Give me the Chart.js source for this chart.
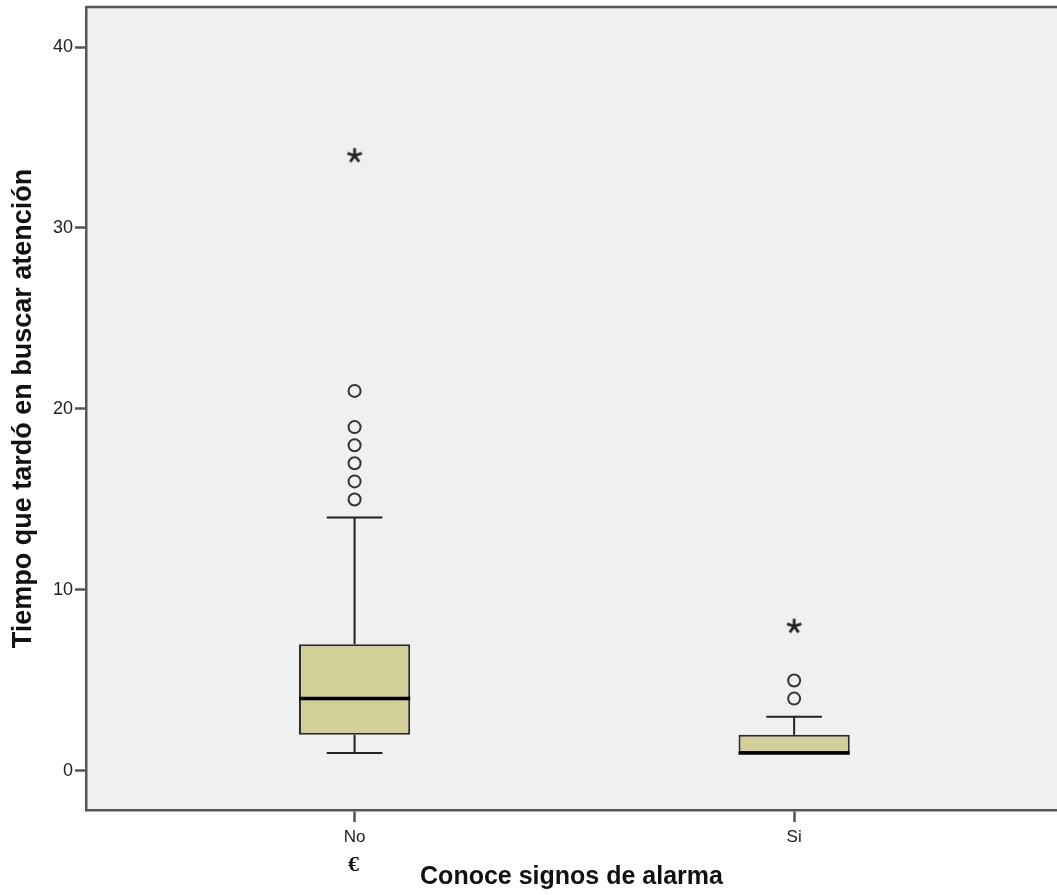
<!DOCTYPE html>
<html>
<head>
<meta charset="utf-8">
<script src="https://cdn.jsdelivr.net/npm/chart.js@4.4.0/dist/chart.umd.min.js"></script>
<style>
  html, body { margin: 0; padding: 0; background: #ffffff; }
  canvas { display: block; }
</style>
</head>
<body>
<canvas id="chart" width="1057" height="895"></canvas>
<script>
// Tiempo que tardó en buscar atención, by knowledge of alarm signs
const categories = ['No', 'Si'];
const whiskerLow = [1, 1];
const q1 = [2, 1];
const median = [4, 1];
const q3 = [7, 2];
const whiskerHigh = [14, 3];
const outliers = [[15, 16, 17, 18, 19, 21], [4, 5]];
const extremes = [[34], [8]];
const yTicks = [0, 10, 20, 30, 40];

const FONT = "'Liberation Sans', Arial, sans-serif";
const AXIS_GREY = '#555555';

// asterisk marker for extreme values
function makeAsterisk() {
  const c = document.createElement('canvas');
  c.width = 18; c.height = 18;
  const g = c.getContext('2d');
  g.strokeStyle = '#222';
  g.lineWidth = 2.8;
  g.lineCap = 'butt';
  for (let k = 0; k < 5; k++) {
    const a = -Math.PI / 2 + k * 2 * Math.PI / 5;
    g.beginPath();
    g.moveTo(9, 9);
    g.lineTo(9 + 7.5 * Math.cos(a), 9 + 7.5 * Math.sin(a));
    g.stroke();
  }
  return c;
}
const asterisk = makeAsterisk();

const boxData = categories.map((c, i) => ({ x: i + 1, y: [q1[i], q3[i]] }));
const outlierData = [];
outliers.forEach((vals, i) => vals.forEach(v => outlierData.push({ x: i + 1, y: v })));
const extremeData = [];
extremes.forEach((vals, i) => vals.forEach(v => extremeData.push({ x: i + 1, y: v })));

const boxParts = {
  id: 'boxParts',
  beforeDraw(chart) {
    const { ctx, chartArea: a } = chart;
    ctx.save();
    ctx.fillStyle = '#f0f0f0';
    ctx.fillRect(a.left, a.top, a.right - a.left, a.bottom - a.top);
    ctx.restore();
  },
  afterDatasetsDraw(chart) {
    const { ctx } = chart;
    const xs = chart.scales.x, ys = chart.scales.y;
    const bars = chart.getDatasetMeta(0).data;
    ctx.save();
    categories.forEach((c, i) => {
      const cx = xs.getPixelForValue(i + 1);
      const half = bars[i].width / 2;
      const capHalf = half / 2;
      ctx.strokeStyle = '#222';
      ctx.lineWidth = 2;
      // upper whisker
      if (whiskerHigh[i] > q3[i]) {
        ctx.beginPath();
        ctx.moveTo(cx, ys.getPixelForValue(q3[i]));
        ctx.lineTo(cx, ys.getPixelForValue(whiskerHigh[i]));
        ctx.stroke();
      }
      ctx.beginPath();
      ctx.moveTo(cx - capHalf, ys.getPixelForValue(whiskerHigh[i]));
      ctx.lineTo(cx + capHalf, ys.getPixelForValue(whiskerHigh[i]));
      ctx.stroke();
      // lower whisker
      if (whiskerLow[i] < q1[i]) {
        ctx.beginPath();
        ctx.moveTo(cx, ys.getPixelForValue(q1[i]));
        ctx.lineTo(cx, ys.getPixelForValue(whiskerLow[i]));
        ctx.stroke();
        ctx.beginPath();
        ctx.moveTo(cx - capHalf, ys.getPixelForValue(whiskerLow[i]));
        ctx.lineTo(cx + capHalf, ys.getPixelForValue(whiskerLow[i]));
        ctx.stroke();
      }
      // median
      ctx.strokeStyle = '#000';
      ctx.lineWidth = 3.5;
      const my = ys.getPixelForValue(median[i]);
      ctx.beginPath();
      ctx.moveTo(cx - half, my);
      ctx.lineTo(cx + half, my);
      ctx.stroke();
    });
    ctx.restore();
  },
  afterDraw(chart) {
    const { ctx, chartArea: a } = chart;
    ctx.save();
    ctx.strokeStyle = AXIS_GREY;
    ctx.lineWidth = 2.5;
    ctx.beginPath();
    ctx.moveTo(a.left, a.top);
    ctx.lineTo(a.right, a.top);
    ctx.stroke();
    ctx.fillStyle = '#111';
    ctx.font = "bold 22px 'Liberation Serif', 'DejaVu Serif', serif";
    ctx.textAlign = 'center';
    ctx.textBaseline = 'middle';
    ctx.fillText('€', chart.scales.x.getPixelForValue(1) - 1, 865);
    ctx.restore();
  }
};

new Chart(document.getElementById('chart'), {
  type: 'bar',
  data: {
    datasets: [
      {
        type: 'bar',
        data: boxData,
        backgroundColor: '#d3cf98',
        borderColor: '#2a2a2a',
        borderWidth: 2,
        borderSkipped: false,
        barPercentage: 0.253,
        categoryPercentage: 1.0,
        order: 2
      },
      {
        type: 'scatter',
        data: outlierData,
        pointStyle: 'circle',
        pointRadius: 6,
        pointBorderWidth: 2,
        pointBorderColor: '#333333',
        pointBackgroundColor: 'rgba(0,0,0,0)',
        showLine: false,
        order: 1
      },
      {
        type: 'scatter',
        data: extremeData,
        pointStyle: asterisk,
        showLine: false,
        order: 1
      }
    ]
  },
  options: {
    responsive: false,
    animation: false,
    devicePixelRatio: 1,
    layout: { autoPadding: false, padding: { top: 7, right: 0, left: 0, bottom: 0 } },
    plugins: { legend: { display: false }, tooltip: { enabled: false } },
    scales: {
      x: {
        type: 'linear',
        offset: false,
        min: 0.389,
        max: 2.598,
        afterBuildTicks: s => { s.ticks = categories.map((c, i) => ({ value: i + 1 })); },
        afterFit: s => { s.height = 85; s.paddingLeft = 0; s.paddingRight = 0; },
        grid: { offset: false, drawOnChartArea: false, drawTicks: true, tickLength: 12, color: AXIS_GREY, tickColor: AXIS_GREY, tickWidth: 2.5 },
        border: { display: true, color: AXIS_GREY, width: 2.5 },
        ticks: {
          color: '#222',
          padding: 5,
          maxRotation: 0,
          font: { family: FONT, size: 17 },
          callback: (v, idx) => categories[idx]
        },
        title: {
          display: true,
          text: 'Conoce signos de alarma',
          color: '#111',
          font: { family: FONT, size: 25, weight: 'bold' },
          padding: { top: 0, bottom: 3 }
        }
      },
      y: {
        type: 'linear',
        min: -2.155,
        max: 42.21,
        afterBuildTicks: s => { s.ticks = yTicks.map(v => ({ value: v })); },
        afterFit: s => { s.width = 86; s.paddingTop = 0; s.paddingBottom = 0; },
        grid: { drawOnChartArea: false, drawTicks: true, tickLength: 11, color: AXIS_GREY, tickColor: AXIS_GREY, tickWidth: 2.5 },
        border: { display: true, color: AXIS_GREY, width: 2.5 },
        ticks: {
          color: '#222',
          padding: 2,
          font: { family: FONT, size: 18 }
        },
        title: {
          display: true,
          text: 'Tiempo que tardó en buscar atención',
          color: '#111',
          font: { family: FONT, size: 27, weight: 'bold' },
          padding: { top: 7, bottom: 0 }
        }
      }
    }
  },
  plugins: [boxParts]
});
</script>
</body>
</html>
